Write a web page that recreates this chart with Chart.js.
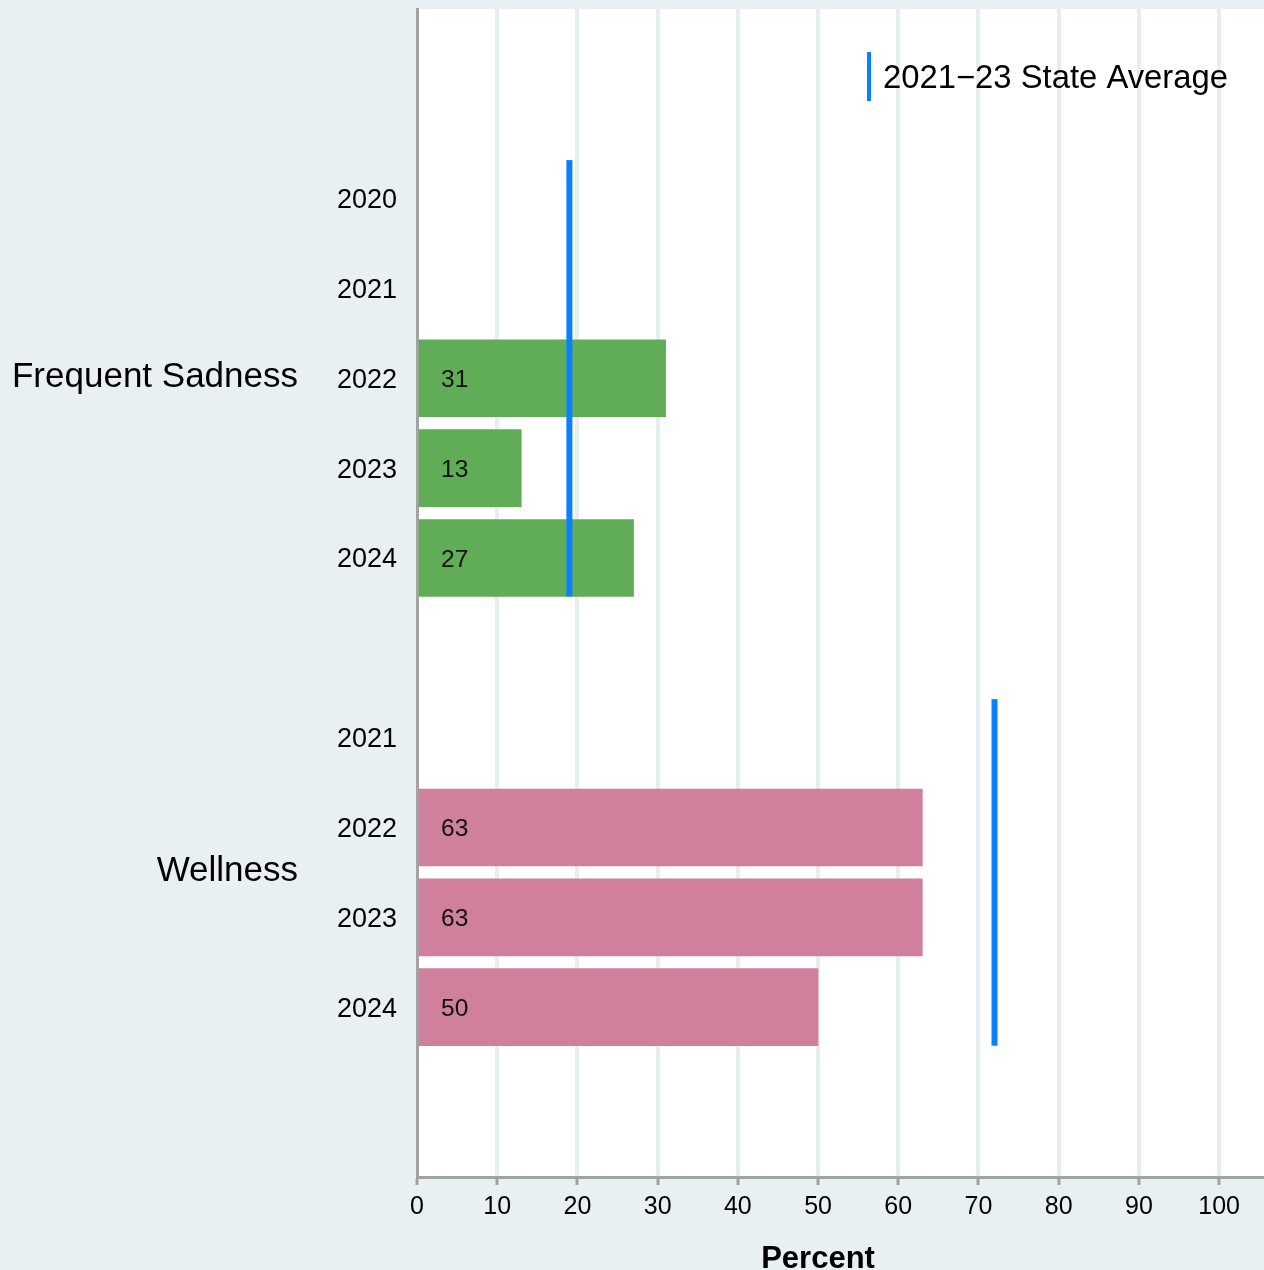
<!DOCTYPE html>
<html>
<head>
<meta charset="utf-8">
<script src="https://cdn.jsdelivr.net/npm/chart.js@4"></script>
<style>
  html, body { margin: 0; padding: 0; background: #e9f0f3; }
  #wrap { width: 1264px; height: 1270px; position: relative; }
  canvas { display: block; }
</style>
</head>
<body>
<div id="wrap"><canvas id="c" width="1264" height="1270"></canvas></div>
<script>
// ---- data ----
const groupNames = ['Frequent Sadness', 'Wellness'];
const sadnessYears = ['2020', '2021', '2022', '2023', '2024'];
const sadnessValues = [null, null, 31, 13, 27];
const wellnessYears = ['2021', '2022', '2023', '2024'];
const wellnessValues = [null, 63, 63, 50];
const stateAverages = [19, 72];
const legendLabel = '2021\u221223 State Average';
const xTickValues = [0, 10, 20, 30, 40, 50, 60, 70, 80, 90, 100];
const xTitle = 'Percent';

// ---- build row index layout (one empty slot between groups) ----
const groupYears = [sadnessYears, wellnessYears];
const groupValues = [sadnessValues, wellnessValues];
const rows = [];
const groupRanges = [];
let idx = 0;
groupYears.forEach((years, g) => {
  const first = idx;
  years.forEach((yr, i) => { rows.push({ idx: idx, label: yr, group: g, value: groupValues[g][i] }); idx++; });
  groupRanges.push({ first: first, last: idx - 1 });
  idx++;
});

const FONT = "'Liberation Sans', Arial, Helvetica, sans-serif";
Chart.defaults.font.family = FONT;
Chart.defaults.color = '#000';

const BAR_THICK = 77;
const COLORS = ['#60ac57', '#d0809c'];
const AVG_COLOR = '#0a80ff';
const GRID_COLOR = '#e6eef1';
const AXIS_COLOR = '#a3a3a3';

const bgPlugin = {
  id: 'bg',
  beforeDraw(chart) {
    const { ctx, chartArea: a } = chart;
    ctx.save();
    ctx.fillStyle = '#e9f0f3';
    ctx.fillRect(0, 0, chart.width, chart.height);
    ctx.fillStyle = '#ffffff';
    ctx.fillRect(a.left, a.top, a.right - a.left, a.bottom - a.top);
    ctx.restore();
  }
};

const overlayPlugin = {
  id: 'overlay',
  afterDatasetsDraw(chart) {
    const { ctx, scales: { x, y } } = chart;
    ctx.save();
    // value labels
    ctx.font = '24.5px ' + FONT;
    ctx.fillStyle = '#111';
    ctx.textAlign = 'left';
    ctx.textBaseline = 'middle';
    chart.data.datasets.forEach((ds, di) => {
      const meta = chart.getDatasetMeta(di);
      meta.data.forEach((el, i) => {
        const v = ds.data[i].x;
        if (v === null || v === undefined) return;
        ctx.fillText(String(v), el.base + 22, el.y + 2);
      });
    });
    // state average lines
    ctx.fillStyle = AVG_COLOR;
    groupRanges.forEach((r, g) => {
      const px = x.getPixelForValue(stateAverages[g]);
      const top = y.getPixelForValue(r.first) - BAR_THICK / 2;
      const bot = y.getPixelForValue(r.last) + BAR_THICK / 2;
      ctx.fillRect(px - 3, top, 6, bot - top);
    });
    ctx.restore();
  },
  afterDraw(chart) {
    const { ctx, scales: { x, y } } = chart;
    ctx.save();
    // group labels
    ctx.font = '35px ' + FONT;
    ctx.fillStyle = '#000';
    ctx.textAlign = 'right';
    ctx.textBaseline = 'middle';
    groupRanges.forEach((r, g) => {
      const cy = (y.getPixelForValue(r.first) + y.getPixelForValue(r.last)) / 2 - 1;
      ctx.fillText(groupNames[g], 298, cy);
    });
    // x title
    ctx.font = 'bold 31px ' + FONT;
    ctx.textAlign = 'center';
    ctx.textBaseline = 'alphabetic';
    ctx.fillText(xTitle, x.getPixelForValue(50), 1268);
    // legend
    ctx.fillStyle = AVG_COLOR;
    ctx.fillRect(867, 52, 4, 49);
    ctx.fillStyle = '#000';
    ctx.font = '32.8px ' + FONT;
    ctx.textAlign = 'left';
    ctx.textBaseline = 'middle';
    ctx.fillText(legendLabel, 883, 79);
    ctx.restore();
  }
};

const datasets = groupRanges.map((r, g) => ({
  label: groupNames[g],
  data: rows.filter(rw => rw.group === g).map(rw => ({ x: rw.value, y: rw.idx })),
  backgroundColor: COLORS[g],
  barThickness: BAR_THICK,
  grouped: false,
  borderWidth: 0
}));

new Chart(document.getElementById('c').getContext('2d'), {
  type: 'bar',
  data: { datasets: datasets },
  options: {
    indexAxis: 'y',
    responsive: false,
    animation: false,
    devicePixelRatio: 1,
    layout: { padding: { top: 9, left: 0, right: 0, bottom: 0 } },
    plugins: { legend: { display: false }, tooltip: { enabled: false } },
    scales: {
      x: {
        type: 'linear',
        position: 'bottom',
        min: 0,
        max: 105.6,
        offset: false,
        afterBuildTicks: s => { s.ticks = xTickValues.map(v => ({ value: v })); },
        afterFit: s => { s.height = 93; s.paddingLeft = 0; s.paddingRight = 0; },
        grid: {
          offset: false,
          color: c => (c.tick && c.tick.value === 0) ? 'rgba(0,0,0,0)' : GRID_COLOR,
          lineWidth: 4,
          tickColor: AXIS_COLOR,
          tickWidth: 3,
          tickLength: 8
        },
        border: { color: AXIS_COLOR, width: 3 },
        ticks: { font: { size: 25 }, color: '#000', padding: 7, maxRotation: 0, autoSkip: false }
      },
      y: {
        type: 'linear',
        reverse: true,
        min: -2.11,
        max: 10.89,
        offset: false,
        bounds: 'data',
        afterBuildTicks: s => { s.ticks = rows.map(r => ({ value: r.idx })); },
        afterFit: s => { s.width = 417; s.paddingTop = 0; s.paddingBottom = 0; },
        grid: { display: false, drawTicks: false, offset: false },
        border: { display: true, color: AXIS_COLOR, width: 3 },
        ticks: {
          font: { size: 27 },
          color: '#000',
          padding: 20,
          labelOffset: 2,
          autoSkip: false,
          callback: v => { const r = rows.find(rw => rw.idx === v); return r ? r.label : ''; }
        }
      }
    }
  },
  plugins: [bgPlugin, overlayPlugin]
});
</script>
</body>
</html>
